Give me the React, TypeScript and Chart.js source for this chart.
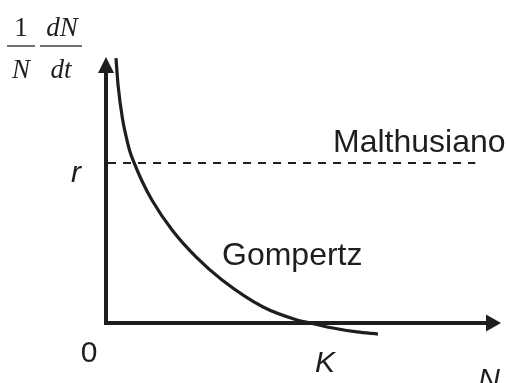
import { useEffect, useRef } from "react";
import { Chart, registerables } from "chart.js";

Chart.register(...registerables);

// Population size N (in units of the carrying capacity K) and the per-capita growth rate (in units of r)
const N_VALUES = [0.049, 0.059, 0.081, 0.105, 0.118, 0.14, 0.174, 0.225, 0.324, 0.441, 0.569, 0.77, 0.936, 1.0, 1.098, 1.23, 1.333];
const GOMPERTZ_RATE = [1.656, 1.488, 1.275, 1.131, 1.069, 0.994, 0.894, 0.769, 0.581, 0.413, 0.269, 0.1, 0.019, 0, -0.028, -0.056, -0.069];

// Constant Malthusian rate r, drawn across the plot
const MALTHUS_N = [0.01, 1.81];
const MALTHUS_RATE = [1, 1];

// Axis marks
const K_VALUE = 1;
const R_VALUE = 1;
const X_MAX = 1.936;
const Y_MAX = 1.6625;
const Y_MIN = -0.3;

const INK = "#1e1e1e";

const axesPlugin = {
  id: "arrowAxes",
  beforeDatasetsDraw(chart: any) {
    const { ctx, scales } = chart;
    const xs = scales.x;
    const ys = scales.y;
    const x0 = xs.getPixelForValue(0);
    const y0 = ys.getPixelForValue(0);
    const xEnd = xs.getPixelForValue(X_MAX);
    const yEnd = ys.getPixelForValue(Y_MAX);
    ctx.save();
    ctx.strokeStyle = INK;
    ctx.fillStyle = INK;
    ctx.lineWidth = 4;
    ctx.lineCap = "butt";
    // axis lines
    ctx.beginPath();
    ctx.moveTo(x0, yEnd + 10);
    ctx.lineTo(x0, y0 + 2);
    ctx.stroke();
    ctx.beginPath();
    ctx.moveTo(x0 - 2, y0);
    ctx.lineTo(xEnd - 10, y0);
    ctx.stroke();
    // arrow heads
    ctx.beginPath();
    ctx.moveTo(x0, yEnd);
    ctx.lineTo(x0 - 8, yEnd + 16);
    ctx.lineTo(x0 + 8, yEnd + 16);
    ctx.closePath();
    ctx.fill();
    ctx.beginPath();
    ctx.moveTo(xEnd, y0);
    ctx.lineTo(xEnd - 15, y0 - 8.5);
    ctx.lineTo(xEnd - 15, y0 + 8.5);
    ctx.closePath();
    ctx.fill();
    ctx.restore();
  },
  afterDatasetsDraw(chart: any) {
    const { ctx, scales } = chart;
    const xs = scales.x;
    const ys = scales.y;
    const x0 = xs.getPixelForValue(0);
    const y0 = ys.getPixelForValue(0);
    const xK = xs.getPixelForValue(K_VALUE);
    const yR = ys.getPixelForValue(R_VALUE);
    const xEnd = xs.getPixelForValue(X_MAX);
    ctx.save();
    ctx.fillStyle = INK;
    ctx.textBaseline = "alphabetic";

    // tick-like labels
    ctx.textAlign = "center";
    ctx.font = '30px "Liberation Sans", Arial, sans-serif';
    ctx.fillText("0", x0 - 17, y0 + 39);
    ctx.font = 'italic 30px "Liberation Sans", Arial, sans-serif';
    ctx.fillText("K", xK + 15, y0 + 49);
    ctx.fillText("N", xEnd - 12, y0 + 66);
    ctx.fillText("r", x0 - 30, yR + 19);

    // curve names
    ctx.textAlign = "left";
    ctx.font = '32px "Liberation Sans", Arial, sans-serif';
    ctx.fillText("Malthusiano", 333, yR - 11);
    ctx.fillText("Gompertz", 222, 265);

    // y-axis title: (1/N)(dN/dt)
    ctx.font = '27px "Liberation Serif", "Times New Roman", serif';
    ctx.textAlign = "center";
    ctx.fillText("1", 21, 36);
    ctx.font = 'italic 27px "Liberation Serif", "Times New Roman", serif';
    ctx.fillText("N", 21, 78);
    ctx.fillText("dN", 62, 36);
    ctx.fillText("dt", 61, 78);
    ctx.strokeStyle = "#444";
    ctx.lineWidth = 1.6;
    ctx.beginPath();
    ctx.moveTo(7, 46);
    ctx.lineTo(35, 46);
    ctx.moveTo(40, 46);
    ctx.lineTo(82, 46);
    ctx.stroke();
    ctx.restore();
  },
};

export default function App() {
  const canvasRef = useRef<HTMLCanvasElement | null>(null);

  useEffect(() => {
    if (!canvasRef.current) return;
    const chart = new Chart(canvasRef.current, {
      type: "line",
      data: {
        datasets: [
          {
            label: "Malthusiano",
            data: MALTHUS_N.map((n, i) => ({ x: n, y: MALTHUS_RATE[i] })),
            borderColor: INK,
            borderWidth: 2,
            borderDash: [8, 7],
            pointRadius: 0,
            fill: false,
          },
          {
            label: "Gompertz",
            data: N_VALUES.map((n, i) => ({ x: n, y: GOMPERTZ_RATE[i] })),
            borderColor: INK,
            borderWidth: 3.2,
            pointRadius: 0,
            cubicInterpolationMode: "monotone",
            fill: false,
          },
        ],
      },
      options: {
        responsive: false,
        animation: false,
        devicePixelRatio: 1,
        clip: false,
        layout: { padding: { left: 106, right: 5, top: 57, bottom: 12 } },
        plugins: {
          legend: { display: false },
          tooltip: { enabled: false },
        },
        scales: {
          x: { type: "linear", min: 0, max: X_MAX, display: false },
          y: { type: "linear", min: Y_MIN, max: Y_MAX, display: false },
        },
      } as any,
      plugins: [axesPlugin],
    });
    return () => chart.destroy();
  }, []);

  return (
    <div style={{ position: "fixed", left: 0, top: 0, width: 506, height: 383, background: "#fff" }}>
      <canvas ref={canvasRef} width={506} height={383} />
    </div>
  );
}
